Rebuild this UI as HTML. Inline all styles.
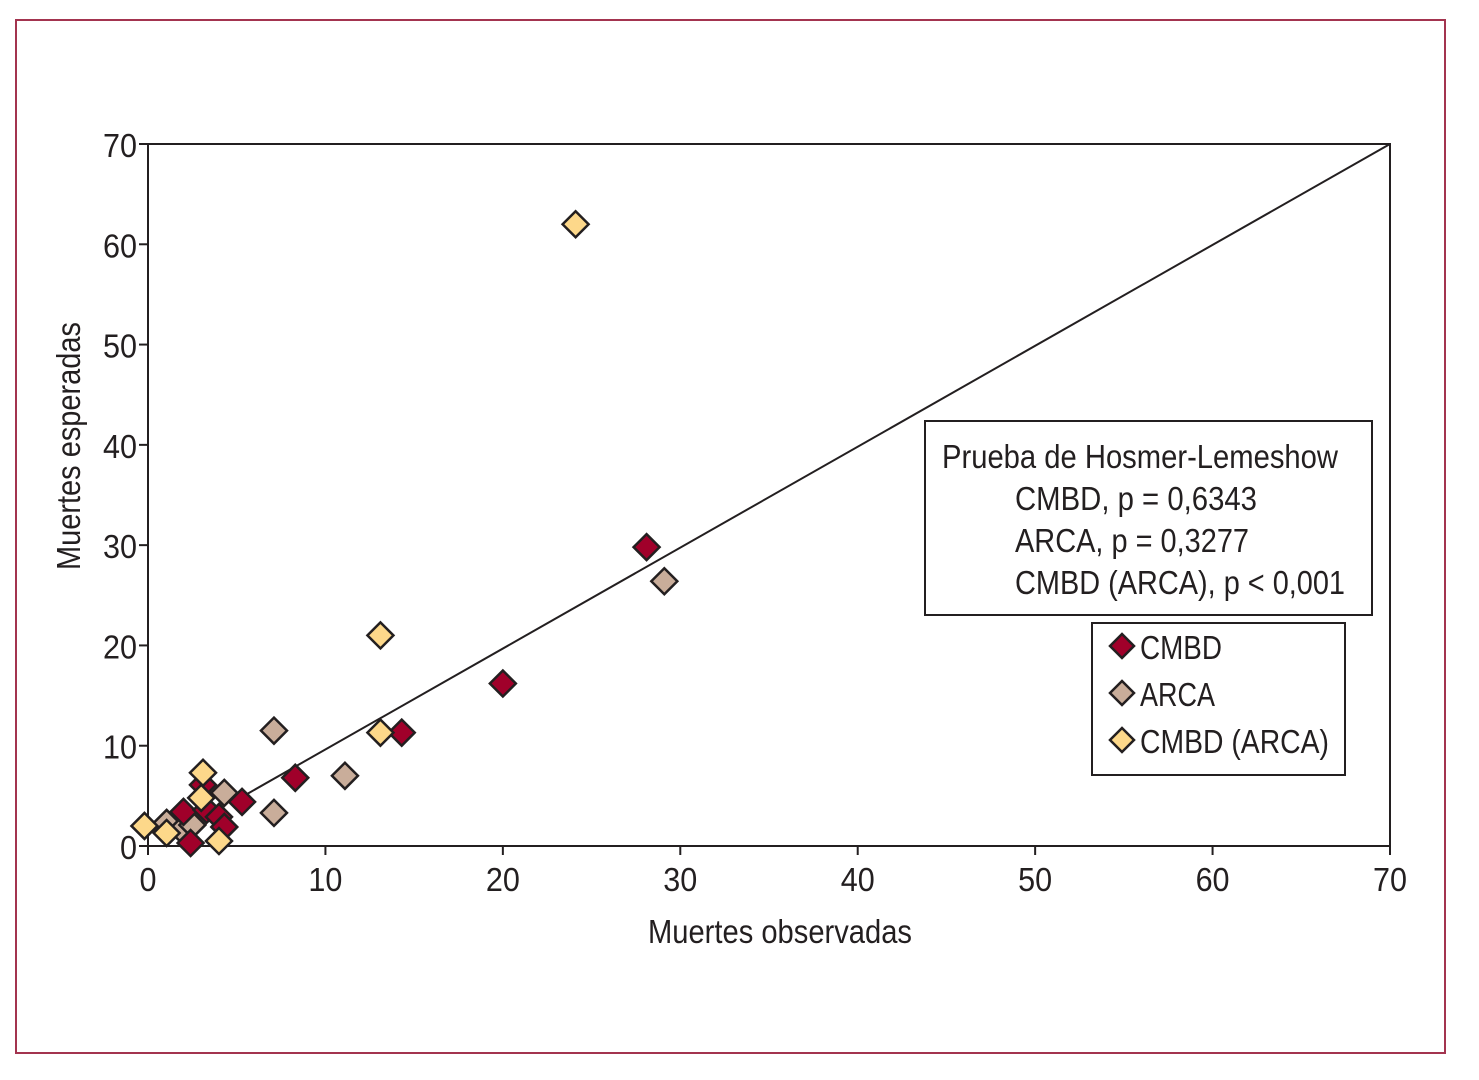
<!DOCTYPE html>
<html><head><meta charset="utf-8"><style>
body{margin:0;background:#fff;}
svg text{font-family:"Liberation Sans Narrow","Liberation Sans",sans-serif;fill:#231f20;}
</style></head><body>
<svg width="1479" height="1075" xmlns="http://www.w3.org/2000/svg">
<rect x="16" y="20" width="1429" height="1033" fill="none" stroke="#a3344f" stroke-width="2"/>
<g id="plot"></g>
</svg>
<script>
const xTicks=[0,10,20,30,40,50,60,70];
const yTicks=[0,10,20,30,40,50,60,70];
const cmbdX=[2.4,2.0,3.1,3.3,4.0,4.3,5.3,8.3,14.3,20.0,28.1];
const cmbdY=[0.3,3.4,6.1,3.6,2.9,1.9,4.4,6.8,11.3,16.2,29.8];
const arcaX=[1.05,1.9,2.5,4.3,7.1,7.1,11.1,29.1];
const arcaY=[2.3,1.6,2.1,5.3,11.5,3.3,7.0,26.4];
const caX=[-0.2,1.05,3.1,3.0,4.0,13.1,13.1,24.1];
const caY=[2.0,1.3,7.3,4.8,0.5,11.3,21.0,62.0];
const NS="http://www.w3.org/2000/svg";
const g=document.getElementById('plot');
const X0=148,X1=1390,Y0=846,Y1=144;
const sx=v=>X0+(X1-X0)*v/70, sy=v=>Y0-(Y0-Y1)*v/70;
function mk(t,a,p){const e=document.createElementNS(NS,t);for(const k in a)e.setAttribute(k,a[k]);(p||g).appendChild(e);return e;}
let e;
e=mk('rect',{x:X0,y:Y1,width:X1-X0,height:Y0-Y1,fill:'none',stroke:'#231f20','stroke-width':2});


xTicks.forEach(v=>{
 e=mk('line',{x1:sx(v),x2:sx(v),y1:Y0,y2:Y0+9,stroke:'#231f20','stroke-width':2});
 
 
 const s=String(v);
 e=mk('text',{x:sx(v),y:Y0+45,'font-size':33,'text-anchor':'middle',textLength:17*s.length,lengthAdjust:'spacingAndGlyphs'});e.textContent=s;
 
 
});
yTicks.forEach(v=>{
 e=mk('line',{x1:X0-9,x2:X0,y1:sy(v),y2:sy(v),stroke:'#231f20','stroke-width':2});
 
 
 const s=String(v);
 e=mk('text',{x:X0-11,y:sy(v)+13,'font-size':33,'text-anchor':'end',textLength:17*s.length,lengthAdjust:'spacingAndGlyphs'});e.textContent=s;
 
 
});
e=mk('text',{x:648,y:943,'font-size':33,textLength:264,lengthAdjust:'spacingAndGlyphs'});e.textContent='Muertes observadas';


e=mk('text',{x:80,y:570,'font-size':33,textLength:248,lengthAdjust:'spacingAndGlyphs',transform:'rotate(-90 80 570)'});e.textContent='Muertes esperadas';


e=mk('line',{x1:sx(5.5),y1:sy(5.1),x2:sx(70),y2:sy(70),stroke:'#231f20','stroke-width':2});


function dia(cx,cy,fill,r){return mk('polygon',{points:`${cx},${cy-r} ${cx+r},${cy} ${cx},${cy+r} ${cx-r},${cy}`,fill:fill,stroke:'#231f20','stroke-width':2.5});}
function series(xs,ys,fill,name){xs.forEach((v,i)=>{e=dia(sx(v),sy(ys[i]),fill,13);
 
 });}
series(arcaX,arcaY,'#c9ad9a','arca-point');
series(cmbdX,cmbdY,'#a0002a','cmbd-point');
series(caX,caY,'#fdd88a','cmbd-arca-point');
e=mk('rect',{x:925,y:421,width:447,height:194,fill:'#fff',stroke:'#231f20','stroke-width':2});


[['Prueba de Hosmer-Lemeshow',942,468,396],['CMBD, p = 0,6343',1015,510,242],['ARCA, p = 0,3277',1015,552,234],['CMBD (ARCA), p < 0,001',1015,594,330]].forEach(t=>{
 e=mk('text',{x:t[1],y:t[2],'font-size':33,textLength:t[3],lengthAdjust:'spacingAndGlyphs'});e.textContent=t[0];
 
 
});
e=mk('rect',{x:1092,y:623,width:253,height:152,fill:'#fff',stroke:'#231f20','stroke-width':2});


[['CMBD','#a0002a',646,82],['ARCA','#c9ad9a',693,75],['CMBD (ARCA)','#fdd88a',740,189]].forEach(t=>{
 e=dia(1122,t[2],t[1],12);
 
 
 e=mk('text',{x:1140,y:t[2]+13,'font-size':33,textLength:t[3],lengthAdjust:'spacingAndGlyphs'});e.textContent=t[0];
 
 
});
</script>
</body></html>
